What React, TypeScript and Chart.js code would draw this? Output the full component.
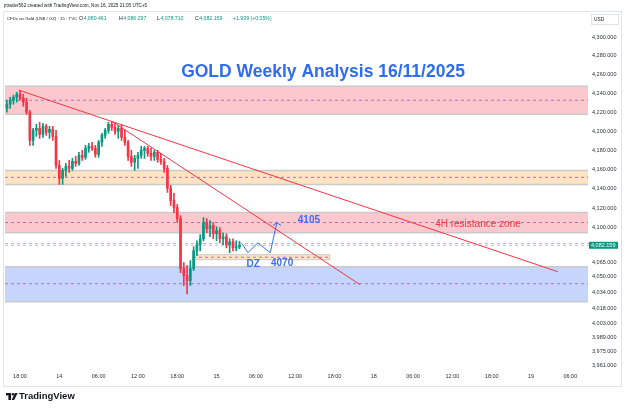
import { useEffect, useRef } from 'react';
import { Chart, registerables } from 'chart.js';

Chart.register(...registerables);

// ---- DATA ----
// time in hours since the first "18:00" label (15-min chart, shown here as 30-min candles)
const candleTimes = [
  -2, -1.5, -1, -0.5, 0, 0.5, 1, 1.5, 2, 2.5, 3, 3.5, 4, 4.5, 5, 5.5, 6, 6.5, 7, 7.5,
  8, 8.5, 9, 9.5, 10, 10.5, 11, 11.5, 12, 12.5, 13, 13.5, 14, 14.5, 15, 15.5, 16, 16.5, 17, 17.5,
  18, 18.5, 19, 19.5, 20, 20.5, 21, 21.5, 22, 22.5, 23, 23.5, 24, 24.5, 25, 25.5, 26, 26.5, 27, 27.5,
  28, 28.5, 29, 29.5, 30, 30.5, 31, 31.5, 32, 32.5, 33, 33.5,
];
const opens = [
  4224.2, 4228.5, 4232.7, 4235.9, 4239.1, 4234.8, 4230.6, 4220.0, 4190.5, 4201.0, 4203.1, 4196.8, 4205.2, 4198.9, 4202.1, 4194.7, 4164.4, 4150.9, 4159.2, 4163.4,
  4161.3, 4168.6, 4166.5, 4174.9, 4172.8, 4182.1, 4184.2, 4182.1, 4175.9, 4188.4, 4195.8, 4201.0, 4207.3, 4204.2, 4200.0, 4203.1, 4193.7, 4188.4, 4173.8, 4167.6,
  4171.7, 4174.9, 4180.1, 4182.1, 4176.9, 4173.8, 4178.0, 4170.7, 4168.6, 4161.3, 4140.6, 4128.0, 4120.8, 4109.4, 4058.4, 4051.3, 4046.3, 4058.4, 4076.5, 4082.7,
  4088.8, 4105.4, 4099.2, 4102.3, 4094.0, 4097.1, 4088.8, 4090.9, 4082.7, 4085.8, 4079.6, 4080.5,
];
const highs = [
  4232.7, 4235.9, 4238.0, 4241.2, 4243.3, 4239.1, 4234.8, 4222.1, 4203.1, 4207.3, 4209.4, 4208.4, 4207.3, 4205.2, 4205.2, 4201.0, 4169.6, 4161.3, 4166.5, 4169.6,
  4171.7, 4173.8, 4178.0, 4180.1, 4185.3, 4187.4, 4188.4, 4185.3, 4190.5, 4197.9, 4203.1, 4209.4, 4210.5, 4208.4, 4206.3, 4207.3, 4201.0, 4190.5, 4180.1, 4174.9,
  4178.0, 4184.2, 4184.2, 4184.2, 4182.1, 4180.1, 4180.1, 4176.9, 4171.7, 4164.4, 4143.7, 4135.4, 4124.0, 4112.5, 4064.5, 4061.4, 4066.5, 4080.6, 4086.8, 4093.0,
  4110.5, 4109.4, 4107.4, 4105.4, 4101.2, 4100.2, 4095.0, 4094.0, 4088.8, 4088.8, 4086.8, 4086.3,
];
const lows = [
  4220.0, 4224.2, 4228.5, 4230.6, 4232.7, 4226.3, 4217.9, 4185.3, 4185.3, 4194.7, 4192.6, 4193.7, 4195.8, 4192.6, 4190.5, 4161.3, 4144.7, 4144.7, 4153.0, 4157.1,
  4159.2, 4163.4, 4164.4, 4169.6, 4170.7, 4178.0, 4180.1, 4172.8, 4172.8, 4184.2, 4192.6, 4197.9, 4201.0, 4196.8, 4192.6, 4190.5, 4185.3, 4169.6, 4163.4, 4159.2,
  4161.3, 4171.7, 4171.7, 4173.8, 4169.6, 4169.6, 4167.6, 4165.5, 4157.1, 4136.4, 4122.9, 4115.6, 4105.4, 4054.4, 4041.3, 4033.0, 4041.3, 4056.4, 4071.5, 4076.5,
  4086.8, 4095.0, 4090.9, 4088.8, 4086.8, 4084.7, 4082.7, 4079.6, 4074.5, 4076.5, 4076.5, 4078.7,
];
const closes = [
  4228.5, 4232.7, 4235.9, 4239.1, 4234.8, 4230.6, 4220.0, 4190.5, 4201.0, 4203.1, 4196.8, 4205.2, 4198.9, 4202.1, 4194.7, 4164.4, 4150.9, 4159.2, 4163.4, 4161.3,
  4168.6, 4166.5, 4174.9, 4172.8, 4182.1, 4184.2, 4182.1, 4175.9, 4188.4, 4195.8, 4201.0, 4207.3, 4204.2, 4200.0, 4203.1, 4193.7, 4188.4, 4173.8, 4167.6, 4171.7,
  4174.9, 4180.1, 4182.1, 4176.9, 4173.8, 4178.0, 4170.7, 4168.6, 4161.3, 4140.6, 4128.0, 4120.8, 4109.4, 4058.4, 4051.3, 4046.3, 4058.4, 4076.5, 4082.7, 4088.8,
  4105.4, 4099.2, 4102.3, 4094.0, 4097.1, 4088.8, 4090.9, 4082.7, 4085.8, 4079.6, 4080.5, 4082.159,
];

const xTickHours = [0, 6, 12, 18, 24, 30, 36, 42, 48, 54, 60, 66, 72, 78, 84];
const xTickLabels = ['18:00', '14', '06:00', '12:00', '18:00', '15', '06:00', '12:00', '18:00', '18', '06:00', '12:00', '18:00', '19', '06:00'];
const yTickValues = [4300, 4280, 4260, 4240, 4220, 4200, 4180, 4160, 4140, 4120, 4100, 4065, 4050, 4034, 4018, 4003, 3989, 3975, 3961];

// horizontal zones: top, bottom, middle (dashed)
const zoneTops = [4247.5, 4159.2, 4115.6, 4060.3];
const zoneBottoms = [4217.9, 4144.7, 4094.9, 4025.0];
const zoneMids = [4232.7, 4152.0, 4105.4, 4043.2];
const zoneFills = ['#fbc8cd', '#fee3c0', '#fbc8cd', '#c5d5fb'];

// demand zone (DZ) box
const dzStart = 26.4;
const dzEnd = 47.3;
const dzTop = 4072.6;
const dzBottom = 4067.5;
const dzMid = 4070.0;

// trend lines
const trend1X = [-0.15, 82.1];
const trend1Y = [4243.3, 4055.3];
const trend2X = [14.05, 51.9];
const trend2Y = [4210.5, 4042.2];

// projected path
const pathX = [33.9, 34.8, 36.3, 38.2, 39.2];
const pathY = [4083.7, 4074.6, 4084.7, 4074.6, 4105.4];
const arrowX = [38.6, 39.2, 39.85];
const arrowY = [4102.3, 4105.4, 4102.3];

const currentPrice = 4082.159;
const prevPriceLine = 4084.0;

// annotations
const noteTexts = ['4105', 'DZ', '4070', '4H resistance zone'];
const noteX = [44.1, 35.6, 40.0, 69.9];
const noteY = [4107.4, 4062.4, 4063.4, 4103.3];

const UP = '#089981';
const DOWN = '#f23645';
const FONT = "'Liberation Sans', Arial, sans-serif";

const fmt = (v: number) =>
  v.toLocaleString('en-US', { minimumFractionDigits: 3, maximumFractionDigits: 3 });

const zonesPlugin = {
  id: 'zones',
  beforeDatasetsDraw(chart: any) {
    const { ctx, chartArea, scales } = chart;
    const x = scales.x;
    const y = scales.y;
    ctx.save();
    const left = chartArea.left;
    const right = chartArea.right - 2;
    zoneTops.forEach((t, i) => {
      const yt = y.getPixelForValue(t);
      const yb = y.getPixelForValue(zoneBottoms[i]);
      ctx.fillStyle = zoneFills[i];
      ctx.fillRect(left, yt, right - left, yb - yt);
      ctx.strokeStyle = '#cacace';
      ctx.lineWidth = 1.5;
      ctx.beginPath();
      ctx.moveTo(left, yt); ctx.lineTo(right, yt);
      ctx.moveTo(left, yb); ctx.lineTo(right, yb);
      ctx.stroke();
      const ym = y.getPixelForValue(zoneMids[i]);
      ctx.strokeStyle = '#b868d8';
      ctx.lineWidth = 1;
      ctx.setLineDash([3, 3]);
      ctx.beginPath();
      ctx.moveTo(left, ym); ctx.lineTo(right, ym);
      ctx.stroke();
      ctx.setLineDash([]);
    });
    // DZ box
    const dx0 = x.getPixelForValue(dzStart);
    const dx1 = x.getPixelForValue(dzEnd);
    const dy0 = y.getPixelForValue(dzTop);
    const dy1 = y.getPixelForValue(dzBottom);
    ctx.fillStyle = '#fee3c0';
    ctx.fillRect(dx0, dy0, dx1 - dx0, dy1 - dy0);
    ctx.strokeStyle = '#cacace';
    ctx.lineWidth = 1;
    ctx.strokeRect(dx0, dy0, dx1 - dx0, dy1 - dy0);
    ctx.strokeStyle = '#b868d8';
    ctx.setLineDash([3, 3]);
    const dm = y.getPixelForValue(dzMid);
    ctx.beginPath(); ctx.moveTo(dx0, dm); ctx.lineTo(dx1, dm); ctx.stroke();
    // price lines
    const yp = y.getPixelForValue(prevPriceLine);
    ctx.strokeStyle = '#f5a3ab';
    ctx.beginPath(); ctx.moveTo(left, yp); ctx.lineTo(chartArea.right, yp); ctx.stroke();
    const yc = y.getPixelForValue(currentPrice);
    ctx.strokeStyle = '#a9c0f5';
    ctx.beginPath(); ctx.moveTo(left, yc); ctx.lineTo(chartArea.right, yc); ctx.stroke();
    ctx.setLineDash([]);
    ctx.restore();
  },
  afterDatasetsDraw(chart: any) {
    const { ctx, scales } = chart;
    const x = scales.x;
    const y = scales.y;
    ctx.save();
    ctx.textBaseline = 'middle';
    ctx.textAlign = 'center';
    noteTexts.forEach((t, i) => {
      const px = x.getPixelForValue(noteX[i]);
      const py = y.getPixelForValue(noteY[i]);
      if (i === 3) {
        ctx.font = `10px ${FONT}`;
        ctx.fillStyle = '#f23645';
      } else {
        ctx.font = `bold 10px ${FONT}`;
        ctx.fillStyle = '#3a6ff0';
      }
      ctx.fillText(t, px, py);
    });
    ctx.restore();
  },
  afterDraw(chart: any) {
    const { ctx, scales } = chart;
    const y = scales.y;
    ctx.save();
    // frame
    ctx.strokeStyle = '#e0e3eb';
    ctx.lineWidth = 1;
    ctx.strokeRect(3.5, 11.5, 618, 375);
    // header line 1
    ctx.fillStyle = '#131722';
    ctx.textBaseline = 'middle';
    ctx.textAlign = 'left';
    ctx.font = `4.6px ${FONT}`;
    ctx.fillText('jrtrader562 created with TradingView.com, Nov 16, 2025 21:05 UTC+5', 4, 5.5);
    // header line 2
    ctx.font = `4.3px ${FONT}`;
    ctx.fillText('CFDs on Gold (US$ / OZ) · 15 · TVC', 7, 18.5);
    ctx.font = `5.2px ${FONT}`;
    const ohlcLetters = ['O', 'H', 'L', 'C'];
    const ohlcVals = ['4,080.461', '4,086.297', '4,078.710', '4,082.159'];
    const ohlcPos = [79, 119, 157, 195];
    ohlcLetters.forEach((l, i) => {
      ctx.fillStyle = '#131722';
      ctx.fillText(l, ohlcPos[i], 18.5);
      const w = ctx.measureText(l).width;
      ctx.fillStyle = UP;
      ctx.fillText(ohlcVals[i], ohlcPos[i] + w + 0.5, 18.5);
    });
    ctx.fillStyle = UP;
    ctx.fillText('+1.939 (+0.05%)', 233, 18.5);
    // title
    ctx.font = `bold 17.5px ${FONT}`;
    ctx.fillStyle = '#2e6cf0';
    ctx.textAlign = 'center';
    ctx.textBaseline = 'alphabetic';
    ctx.fillText('GOLD Weekly Analysis 16/11/2025', 323, 77);
    // USD box
    ctx.strokeStyle = '#e0e3eb';
    ctx.fillStyle = '#ffffff';
    ctx.fillRect(591.5, 14.5, 27, 10);
    ctx.strokeRect(591.5, 14.5, 27, 10);
    ctx.fillStyle = '#131722';
    ctx.textAlign = 'left';
    ctx.textBaseline = 'middle';
    ctx.font = `4.8px ${FONT}`;
    ctx.fillText('USD', 594, 19.5);
    // current price label
    const yc = y.getPixelForValue(currentPrice);
    ctx.fillStyle = UP;
    ctx.fillRect(589, yc - 3.5, 29, 7);
    ctx.fillStyle = '#ffffff';
    ctx.font = `5.5px ${FONT}`;
    ctx.fillText(fmt(currentPrice), 591, yc);
    // TradingView logo
    ctx.fillStyle = '#131722';
    ctx.fillRect(6, 393, 5, 2.4);
    ctx.fillRect(8.4, 393, 2.6, 7);
    ctx.beginPath();
    ctx.arc(13, 394.3, 1.3, 0, Math.PI * 2);
    ctx.fill();
    ctx.beginPath();
    ctx.moveTo(15, 393); ctx.lineTo(17.6, 393); ctx.lineTo(14.2, 400); ctx.lineTo(11.6, 400);
    ctx.closePath();
    ctx.fill();
    ctx.font = `bold 9.5px ${FONT}`;
    ctx.fillText('TradingView', 19, 396.5);
    ctx.restore();
  },
};

export default function App() {
  const ref = useRef<HTMLCanvasElement>(null);
  useEffect(() => {
    const canvas = ref.current;
    if (!canvas) return;
    const colors = candleTimes.map((_, i) => (closes[i] >= opens[i] ? UP : DOWN));
    const wickData = candleTimes.map((t, i) => ({ x: t, y: [lows[i], highs[i]] }));
    const bodyData = candleTimes.map((t, i) => ({ x: t, y: [opens[i], closes[i]] }));
    const pts = (xs: number[], ys: number[]) => xs.map((x, i) => ({ x, y: ys[i] }));
    const chart = new Chart(canvas, {
      type: 'bar',
      data: {
        datasets: [
          { type: 'bar', data: wickData as any, backgroundColor: colors, barThickness: 1, grouped: false, order: 5 } as any,
          { type: 'bar', data: bodyData as any, backgroundColor: colors, barThickness: 2, grouped: false, minBarLength: 1, order: 4 } as any,
          { type: 'line', data: pts(trend1X, trend1Y), borderColor: '#f23645', borderWidth: 1, pointRadius: 0, order: 3 } as any,
          { type: 'line', data: pts(trend2X, trend2Y), borderColor: '#f23645', borderWidth: 1, pointRadius: 0, order: 3 } as any,
          { type: 'line', data: pts(pathX, pathY), borderColor: '#3a6ff0', borderWidth: 1, pointRadius: 0, order: 2 } as any,
          { type: 'line', data: pts(arrowX, arrowY), borderColor: '#3a6ff0', borderWidth: 1, pointRadius: 0, order: 2 } as any,
        ],
      },
      options: {
        responsive: false,
        animation: false,
        devicePixelRatio: 1,
        layout: { padding: { left: 5, top: 12, right: 0, bottom: 23 } },
        plugins: { legend: { display: false }, tooltip: { enabled: false }, title: { display: false } },
        scales: {
          x: {
            type: 'linear',
            min: -2.29,
            max: 87.0,
            offset: false,
            grid: { display: false, drawTicks: false, offset: false },
            border: { display: false },
            afterBuildTicks: (s: any) => {
              s.ticks = xTickHours.map((v) => ({ value: v }));
            },
            afterFit: (s: any) => {
              s.height = 16;
            },
            ticks: {
              autoSkip: false,
              maxRotation: 0,
              padding: 3,
              color: '#2a2e39',
              font: { size: 5.5, family: FONT },
              callback: (v: any) => xTickLabels[xTickHours.indexOf(Number(v))],
            },
          },
          y: {
            type: 'logarithmic',
            position: 'right',
            min: 3957,
            max: 4327,
            bounds: 'data',
            grid: { display: false, drawTicks: false },
            border: { display: false },
            afterBuildTicks: (s: any) => {
              s.ticks = yTickValues.map((v) => ({ value: v }));
            },
            afterFit: (s: any) => {
              s.width = 35;
            },
            ticks: {
              autoSkip: false,
              padding: 2,
              color: '#2a2e39',
              font: { size: 5.5, family: FONT },
              callback: (v: any) => fmt(Number(v)),
            },
          },
        },
      } as any,
      plugins: [zonesPlugin],
    });
    return () => chart.destroy();
  }, []);
  return (
    <div style={{ position: 'fixed', left: 0, top: 0, width: 625, height: 409, background: '#ffffff' }}>
      <canvas ref={ref} width={625} height={409} style={{ display: 'block' }} />
    </div>
  );
}
